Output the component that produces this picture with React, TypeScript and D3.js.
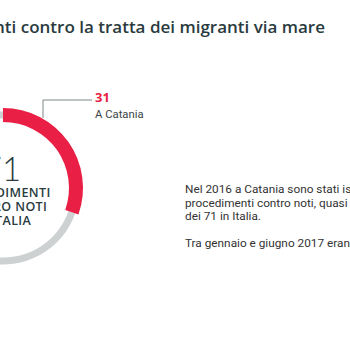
import React from "react";
import * as d3 from "d3";

const title = "Procedimenti contro la tratta dei migranti via mare";
const categories = ["A Catania", "Resto d'Italia"];
const values = [31, 71];
const totalLabel = "71";
const centerLines = ["PROCEDIMENTI", "CONTRO NOTI", "IN ITALIA"];
const calloutValue = "31";
const calloutLabel = "A Catania";
const bodyLines = [
  "Nel 2016 a Catania sono stati istruiti 31",
  "procedimenti contro noti, quasi la metà",
  "dei 71 in Italia.",
  "",
  "Tra gennaio e giugno 2017 erano già",
];

const W = 350;
const H = 350;
const cx = 3;
const cy = 188;

export default function App() {
  const pie = d3.pie<number>().sort(null).value((d) => d);
  const arcs = pie(values);
  const redArc = d3.arc<d3.PieArcDatum<number>>().innerRadius(66).outerRadius(80);
  const grayArc = d3.arc<d3.PieArcDatum<number>>().innerRadius(69.5).outerRadius(76.5);
  const lineX = 43;
  return (
    <svg width={W} height={H} style={{ position: "absolute", left: 0, top: 0, background: "#fff" }}>
      <text x={325} y={33} textAnchor="end" fontFamily="'Open Sans', sans-serif" fontWeight={600}
        fontSize={17} fill="#2a3b40">{title}</text>
      <g transform={`translate(${cx},${cy})`}>
        <path d={grayArc(arcs[1]) || ""} fill="#cdd1d2" />
        <path d={redArc(arcs[0]) || ""} fill="#e91f45" />
        <text x={-1} y={-7} textAnchor="middle" fontFamily="Lato, sans-serif" fontWeight={300} fontSize={33}
          fill="#2a3b40">{totalLabel}</text>
        {centerLines.map((t, i) => (
          <text key={i} x={-1} y={9 + i * 14} textAnchor="middle" fontFamily="'Open Sans', sans-serif"
            fontWeight={600} fontSize={12.5} letterSpacing={0.4} fill="#2a3b40">{t}</text>
        ))}
      </g>
      <polyline points={`${lineX},${cy - 70} ${lineX},100 92,100`} fill="none" stroke="#7d8789" strokeWidth={1} />
      <text x={95} y={101.5} fontFamily="'Open Sans', sans-serif" fontWeight={700} fontSize={13} fill="#e91f45">{calloutValue}</text>
      <text x={95} y={118} fontFamily="Roboto, sans-serif" fontSize={11.3} fill="#3a4448">{calloutLabel}</text>
      {bodyLines.map((t, i) => (
        <text key={i} x={185} y={193 + i * 13.5} fontFamily="Roboto, sans-serif" fontSize={11.8} fill="#333">{t}</text>
      ))}
    </svg>
  );
}
